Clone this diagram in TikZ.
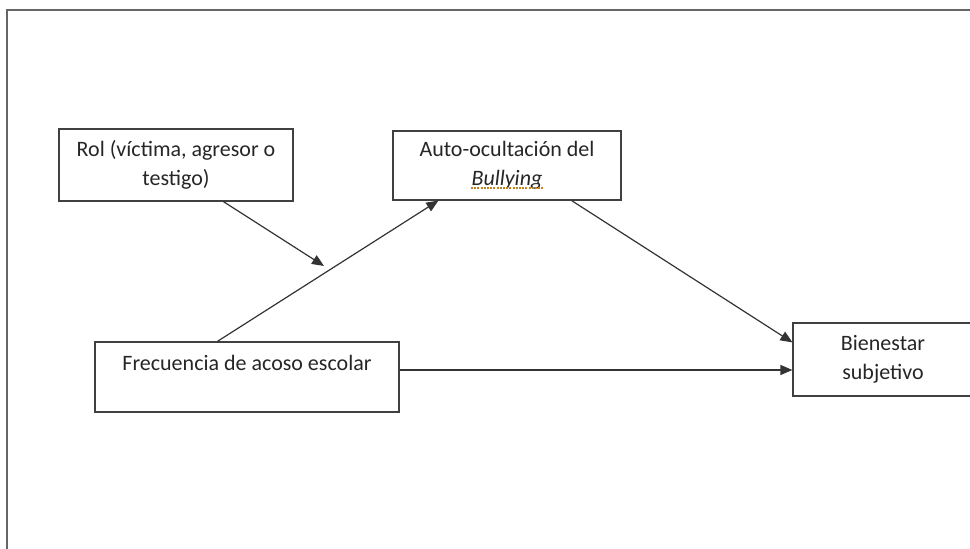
\documentclass[tikz,border=0pt]{standalone}
\usepackage{fontspec}
\setmainfont{Carlito}
\usetikzlibrary{arrows.meta}
\definecolor{spellorange}{RGB}{196,130,30}

\begin{document}
\begin{tikzpicture}[x=0.5pt, y=-0.5pt,
  box/.style={draw=black!75, line width=0.6pt, inner sep=0pt, align=center,
    font=\fontsize{11}{14.5}\selectfont, text=black!85},
  arr/.style={draw=black!80, line width=0.6pt, -{Triangle[length=6pt,width=5pt]}},
  spell/.style={draw=spellorange, line width=0.6pt, dash pattern=on 1pt off 0.6pt}]
\useasboundingbox (0,0) rectangle (970,549);
\clip (0,0) rectangle (970,549);
\draw[black!60, line width=0.7pt] (7,600) |- (1000,10);
\node[box, minimum width=117pt, minimum height=36pt] (rol) at (176,165) {Rol (víctima, agresor o\\testigo)};
\node[box, minimum width=114pt, minimum height=34.5pt] (auto) at (507,165.5) {Auto-ocultación del\\\textit{Bullying}};
\node[box, minimum width=152pt, minimum height=35pt] (frec) at (247,377) {Frecuencia de acoso escolar\\\mbox{}};
\node[box, minimum width=90pt, minimum height=36.5pt] (bien) at (883,359.5) {Bienestar\\subjetivo};
\draw[spell] (471,188) -- (543,188);
\coordinate (mod) at (324,266);
\draw[arr] ([xshift=61.5pt]frec.north west) -- ([xshift=23pt]auto.south west);
\draw[arr] ([xshift=82.5pt]rol.south west) -- (mod);
\draw[arr] ([xshift=-25pt]auto.south east) -- ([yshift=-10pt]bien.north west);
\draw[arr] ([yshift=3.5pt]frec.east) -- ([yshift=3.5pt]frec.east -| bien.west);
\end{tikzpicture}
\end{document}
